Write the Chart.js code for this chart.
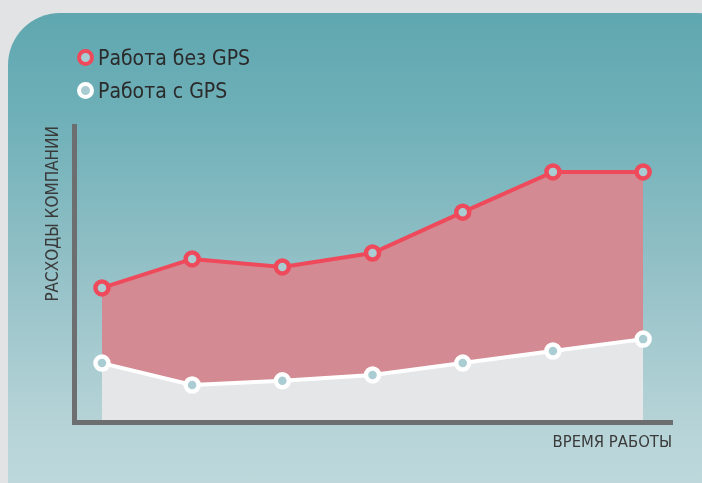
<!DOCTYPE html>
<html>
<head>
<meta charset="utf-8">
<script src="https://cdn.jsdelivr.net/npm/chart.js@4"></script>
<style>
  html, body { margin: 0; padding: 0; }
  body { width: 702px; height: 483px; background: #e2e3e5; position: relative; overflow: hidden; }
  .panel {
    position: absolute; left: 8px; top: 13px; width: 740px; height: 520px;
    border-radius: 52px;
    background: linear-gradient(to bottom, #5fa7b0 0%, #6fb0b8 20%, #94c1c7 50%, #b5d3d7 78%, #c4dcdf 100%);
  }
  #chart { position: absolute; left: 0; top: 0; }
  .legend { position: absolute; left: 77px; top: 41px; font-family: 'DejaVu Sans Condensed', 'DejaVu Sans', sans-serif; font-size: 21px; color: #2a2a2a; }
  .legend-item { display: flex; align-items: center; height: 33px; }
  .legend-dot { width: 9px; height: 9px; border-radius: 50%; border: 4.5px solid; margin-right: 4px; background: #a8ccd1; }
</style>
</head>
<body>
<div class="panel"></div>
<canvas id="chart" width="702" height="483"></canvas>
<div class="legend" id="legend"></div>
<script>
// Data (arbitrary cost units, 0..100)
const periods = [1, 2, 3, 4, 5, 6, 7];
const withoutGps = [45.3, 55.1, 52.4, 57.1, 70.9, 84.5, 84.5];
const withGps = [19.9, 12.5, 13.9, 15.9, 19.9, 24.0, 28.0];
const seriesLabels = ['Работа без GPS', 'Работа с GPS'];
const seriesColors = ['#ef4a5b', '#ffffff'];

const toPoints = vals => vals.map((v, i) => ({ x: periods[i], y: v }));

const ctx = document.getElementById('chart').getContext('2d');

const chart = new Chart(ctx, {
    type: 'line',
    data: {
        datasets: [
            {
                label: seriesLabels[0],
                data: toPoints(withoutGps),
                borderColor: seriesColors[0],
                backgroundColor: '#d48a92',
                borderWidth: 4,
                fill: '+1',
                tension: 0,
                pointRadius: 6.5,
                pointBorderWidth: 4.5,
                pointBackgroundColor: '#a9cdd2',
                pointBorderColor: seriesColors[0]
            },
            {
                label: seriesLabels[1],
                data: toPoints(withGps),
                borderColor: seriesColors[1],
                backgroundColor: '#e5e6e8',
                borderWidth: 4,
                fill: 'origin',
                tension: 0,
                pointRadius: 6.5,
                pointBorderWidth: 4.5,
                pointBackgroundColor: '#a9cdd2',
                pointBorderColor: seriesColors[1]
            }
        ]
    },
    options: {
        responsive: false,
        animation: false,
        layout: { padding: { left: 43, top: 126, right: 30, bottom: 21 } },
        plugins: {
            legend: { display: false },
            tooltip: { enabled: false },
            filler: { drawTime: 'beforeDatasetsDraw' }
        },
        scales: {
            x: {
                type: 'linear',
                min: 0.69, max: 7.32,
                grid: { display: false },
                ticks: { display: false },
                border: { display: true, color: '#6d6e70', width: 5, z: 1 },
                title: {
                    display: true, text: 'ВРЕМЯ РАБОТЫ', align: 'end',
                    color: '#3a3a3a', padding: { top: 0, bottom: 9 },
                    font: { family: 'DejaVu Sans Condensed', size: 16.5 }
                },
                afterFit: s => { s.height = 40; }
            },
            y: {
                min: 0, max: 100,
                grid: { display: false },
                ticks: { display: false },
                border: { display: true, color: '#6d6e70', width: 5, z: 1 },
                title: {
                    display: true, text: 'РАСХОДЫ КОМПАНИИ', align: 'end',
                    color: '#3a3a3a', padding: { top: 0, bottom: 0 },
                    font: { family: 'DejaVu Sans Condensed', size: 17 }
                },
                afterFit: s => { s.width = 31; }
            }
        }
    }
});

// HTML legend built from the series labels
const legend = document.getElementById('legend');
seriesLabels.forEach((label, i) => {
    const item = document.createElement('div');
    item.className = 'legend-item';
    item.innerHTML = `<span class="legend-dot" style="border-color:${seriesColors[i]}"></span><span>${label}</span>`;
    legend.appendChild(item);
});
</script>
</body>
</html>
